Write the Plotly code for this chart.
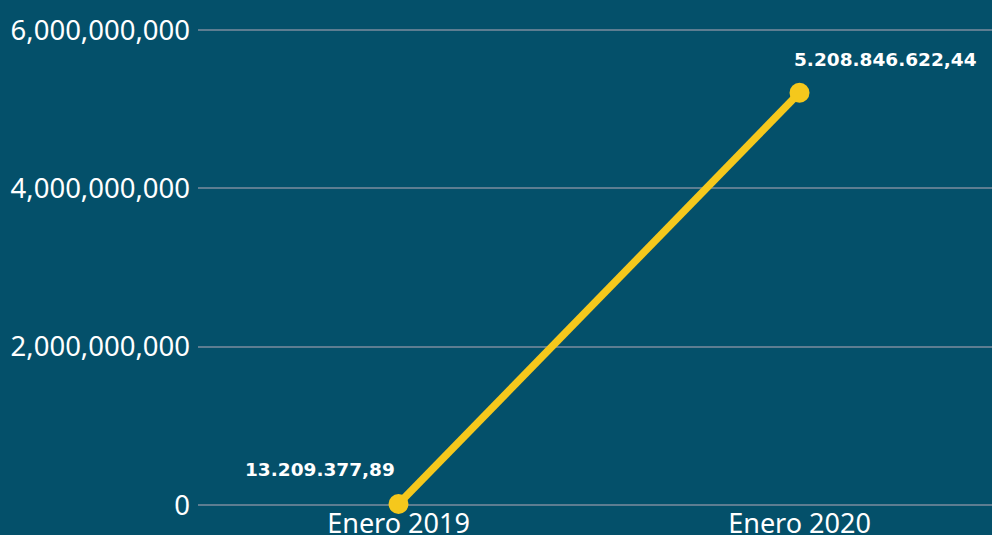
import plotly.graph_objects as go

categories = ["Enero 2019", "Enero 2020"]
values = [13209377.89, 5208846622.44]
labels = ["13.209.377,89", "5.208.846.622,44"]
y_ticks = [0, 2000000000, 4000000000, 6000000000]
y_tick_text = ["0", "2,000,000,000", "4,000,000,000", "6,000,000,000"]

bg = "#04506a"
yellow = "#f5c81c"
grid = "#5d7d91"

fig = go.Figure()
fig.add_trace(go.Scatter(
    x=[0, 1], y=values, mode="lines+markers",
    line=dict(color=yellow, width=7.5),
    marker=dict(color=yellow, size=20),
    cliponaxis=False, hoverinfo="skip"
))

lab_font = dict(family="DejaVu Sans", size=18.5, color="white", weight="bold")
fig.add_annotation(x=0, y=values[0], text=labels[0], showarrow=False,
                   xanchor="right", yanchor="middle", xshift=-2, yshift=34,
                   font=lab_font)
fig.add_annotation(x=1, y=values[1], text=labels[1], showarrow=False,
                   xanchor="left", yanchor="middle", xshift=-8, yshift=33,
                   font=lab_font)

fig.update_layout(
    width=992, height=535,
    paper_bgcolor=bg, plot_bgcolor=bg,
    margin=dict(l=198, r=0, t=0, b=30),
    showlegend=False,
    font=dict(family="Noto Sans", color="white"),
    xaxis=dict(range=[-0.5, 1.48], tickvals=[0, 1], ticktext=categories,
               showgrid=False, zeroline=False, showline=False, automargin=False,
               tickfont=dict(size=27, color="white"), ticks="", ticklabelstandoff=0),
    yaxis=dict(range=[0, 6.38e9], tickvals=y_ticks, ticktext=y_tick_text,
               showgrid=True, gridcolor=grid, gridwidth=1.5, automargin=False,
               zeroline=True, zerolinecolor=grid, zerolinewidth=1.5,
               tickfont=dict(size=27.5, color="white"), ticks="", ticklabelstandoff=7),
)

fig.write_html("out.html", config={"displayModeBar": False},
               post_script="document.body.style.margin='0';")
